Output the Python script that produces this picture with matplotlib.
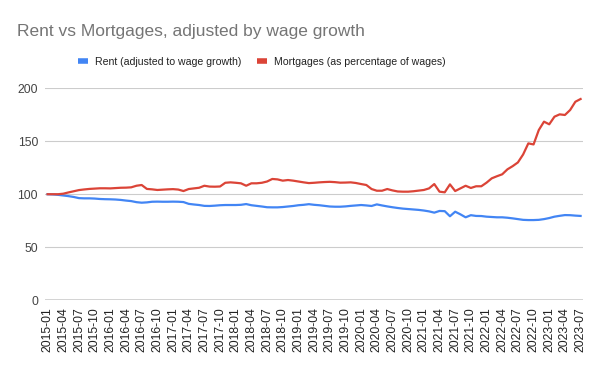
import numpy as np
import matplotlib.pyplot as plt
from matplotlib.lines import Line2D

plt.rcParams['font.family'] = ['Liberation Sans', 'DejaVu Sans']

### Data (monthly, 2015-01 .. 2023-07) ###
months = [f"{y}-{m:02d}" for y in range(2015, 2024) for m in range(1, 13)][:103]

mortgages = [100.0, 100.0, 100.0, 100.5, 101.7, 102.8, 103.9, 104.5, 105.0, 105.3,
             105.6, 105.6, 105.5, 105.8, 106.1, 106.2, 106.5, 108.0, 108.7, 105.0,
             104.6, 104.0, 104.3, 104.6, 104.8, 104.4, 103.0, 104.9, 105.5, 106.1,
             108.0, 107.2, 107.1, 107.3, 110.8, 111.2, 110.8, 110.3, 108.0, 110.3,
             110.3, 110.8, 112.0, 114.4, 114.0, 112.8, 113.4, 112.8, 112.0, 111.2,
             110.5, 110.8, 111.2, 111.5, 111.7, 111.4, 110.9, 111.0, 111.2, 110.6,
             109.6, 108.7, 104.9, 103.3, 103.3, 104.9, 103.6, 102.6, 102.4, 102.4,
             102.8, 103.4, 104.0, 105.5, 109.6, 102.4, 101.8, 109.3, 103.0, 105.5,
             108.0, 105.9, 107.5, 107.5, 110.9, 115.0, 117.0, 118.8, 123.5, 126.5,
             130.0, 137.5, 148.0, 147.0, 160.6, 168.5, 166.0, 173.2, 175.4, 174.8,
             179.5, 187.3, 189.9]

rent = [100.0, 99.8, 99.4, 98.8, 98.2, 97.4, 96.3, 96.1, 96.1, 95.9,
        95.5, 95.3, 95.2, 95.0, 94.6, 94.0, 93.5, 92.5, 92.0, 92.3,
        92.9, 93.0, 92.9, 92.9, 93.0, 92.9, 92.6, 90.9, 90.3, 89.8,
        89.0, 88.9, 89.2, 89.6, 89.8, 89.8, 89.8, 90.0, 90.7, 89.6,
        89.0, 88.4, 87.7, 87.6, 87.6, 87.9, 88.4, 88.9, 89.6, 90.0,
        90.6, 90.0, 89.6, 89.0, 88.4, 88.2, 88.2, 88.5, 89.0, 89.4,
        89.8, 89.4, 88.9, 90.4, 89.4, 88.5, 87.7, 87.0, 86.4, 86.0,
        85.6, 85.2, 84.6, 83.8, 82.6, 84.2, 84.0, 79.2, 83.5, 81.0,
        78.2, 80.2, 79.5, 79.4, 78.8, 78.5, 78.2, 78.2, 77.8, 77.2,
        76.5, 75.8, 75.6, 75.6, 75.8, 76.5, 77.5, 78.8, 79.6, 80.3,
        80.2, 79.8, 79.5]

labels = ["Rent (adjusted to wage growth)", "Mortgages (as percentage of wages)"]
colors = ['#4285F4', '#DB4437']

### Plot ###
fig = plt.figure(figsize=(6, 3.71), dpi=100)
ax = fig.add_axes([0.075, 0.191, 0.897, 0.571])

x = np.arange(len(months))
ax.plot(x, rent, c=colors[0], lw=1.6, solid_joinstyle='round')
ax.plot(x, mortgages, c=colors[1], lw=1.6, solid_joinstyle='round')

ax.set_xlim(-0.5, len(months) - 0.5)
ax.set_ylim(0, 200)
ax.set_yticks([0, 50, 100, 150, 200])
ax.set_xticks(x[::3])
ax.set_xticklabels(months[::3], rotation=90, fontsize=8.8, color='#222222')
ax.tick_params(axis='y', labelsize=8.8, labelcolor='#444444')
ax.tick_params(length=0, pad=5)
ax.grid(axis='y', color='#cccccc', lw=0.8)
ax.set_axisbelow(True)
ax.axhline(0, c='#333333', lw=1.0)
for s in ax.spines.values():
    s.set_visible(False)

fig.text(0.029, 0.915, "Rent vs Mortgages, adjusted by wage growth",
         fontsize=12.5, color='#757575', va='center', ha='left')

handles = [Line2D([], [], c=c, lw=4, solid_capstyle='butt') for c in colors]
fig.legend(handles, labels, loc='center', bbox_to_anchor=(0.436, 0.834), ncol=2,
           frameon=False, fontsize=7.6, handlelength=0.95, handletextpad=0.66,
           columnspacing=1.5, labelcolor='#222222')

plt.savefig("out.png", dpi=100)
